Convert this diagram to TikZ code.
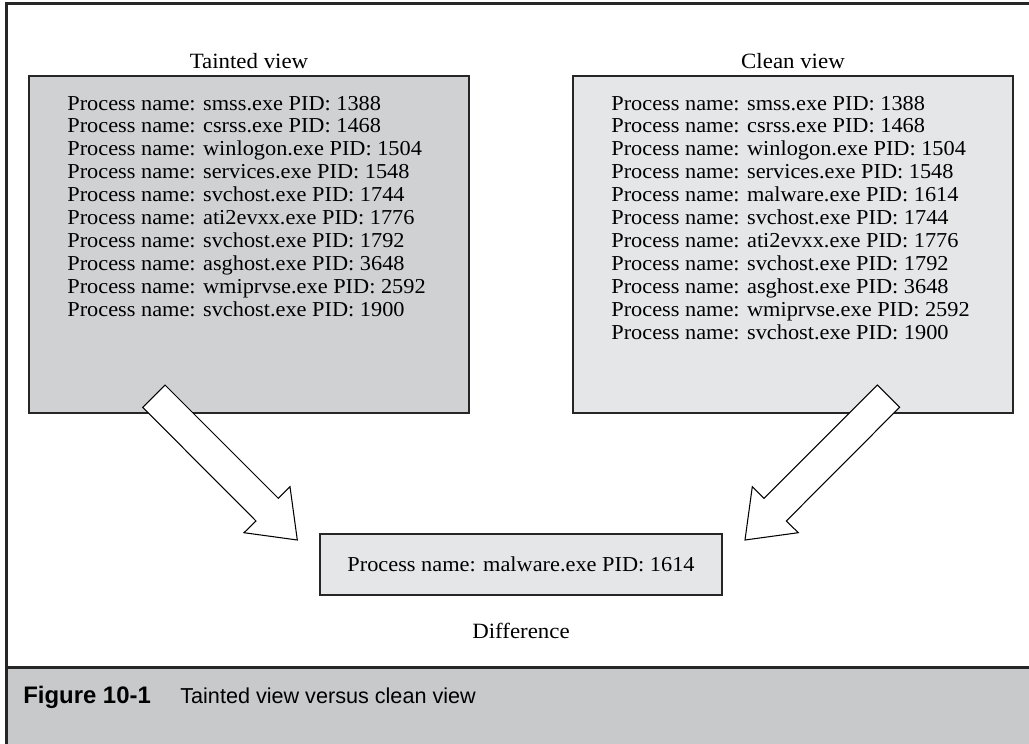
\documentclass[tikz,border=0pt]{standalone}
\usepackage{fontspec}
\setmainfont{Liberation Serif}[FakeStretch=1.05]
\newfontfamily\capfont{Liberation Sans}
\definecolor{taintgray}{HTML}{D0D1D3}
\definecolor{cleangray}{HTML}{E5E6E7}
\definecolor{capgray}{HTML}{C8C9CA}

\begin{document}
\begin{tikzpicture}[x=0.02cm,y=-0.02cm,
    viewbox/.style={draw=black!85,line width=0.9pt,inner sep=0pt},
    proc/.style={anchor=base west,inner sep=0pt,font=\fontsize{12.1}{14}\selectfont},
    heading/.style={anchor=base,inner sep=0pt,font=\fontsize{12.4}{14}\selectfont},
    hollowarrow/.style={draw=black,fill=white,line width=0.6pt,line join=miter}]
    \useasboundingbox (0,0) rectangle (1029,744);
    \fill[capgray] (6,668) rectangle (1029,744);
    \draw[line width=1.7pt,black!85] (6,667.5) -- (1029,667.5);
    \draw[line width=1.7pt,black!85] (1029,3.5) -- (6.5,3.5) -- (6.5,744);

    \node[heading] (taintlabel) at (249,68) {Tainted view};
    \node[heading] (cleanlabel) at (793,68) {Clean view};
    \node[viewbox,fill=taintgray,minimum width=8.8cm,minimum height=6.74cm] (taint) at (249,244.5) {};
    \node[viewbox,fill=cleangray,minimum width=8.8cm,minimum height=6.74cm] (clean) at (793,244.5) {};

    \foreach \name/\pid [count=\i] in {smss.exe/1388,csrss.exe/1468,winlogon.exe/1504,
        services.exe/1548,svchost.exe/1744,ati2evxx.exe/1776,svchost.exe/1792,
        asghost.exe/3648,wmiprvse.exe/2592,svchost.exe/1900}
      \node[proc] (taint-\i) at (67,{110+(\i-1)*22.9}) {Process name: \name\ PID: \pid};
    \foreach \name/\pid [count=\i] in {smss.exe/1388,csrss.exe/1468,winlogon.exe/1504,
        services.exe/1548,malware.exe/1614,svchost.exe/1744,ati2evxx.exe/1776,
        svchost.exe/1792,asghost.exe/3648,wmiprvse.exe/2592,svchost.exe/1900}
      \node[proc] (clean-\i) at (611,{110+(\i-1)*22.9}) {Process name: \name\ PID: \pid};

    \node[viewbox,fill=cleangray,minimum width=8.04cm,minimum height=1.22cm,
      font=\fontsize{12.1}{14}\selectfont] (diff) at (521,564.5) {Process name: malware.exe PID: 1614};
    \node[heading] (difflabel) at (521,638) {Difference};

    \draw[hollowarrow] (165,385) -- (278.3,498.3) -- (290,486.7) -- (297.3,540)
      -- (244,532.7) -- (256,521) -- (142.7,407.3) -- cycle;
    \draw[hollowarrow] (877.3,385) -- (764,498.3) -- (752.3,486.7) -- (745,540)
      -- (798.3,532.7) -- (786.3,521) -- (899.6,407.3) -- cycle;

    \node[anchor=base west,inner sep=0pt,font=\capfont\bfseries\fontsize{13.6}{15}\selectfont]
      (fignum) at (23,703) {Figure 10-1};
    \node[anchor=base west,inner sep=0pt,font=\capfont\fontsize{12.3}{14}\selectfont]
      (figtitle) at (180,703) {Tainted view versus clean view};
\end{tikzpicture}
\end{document}
